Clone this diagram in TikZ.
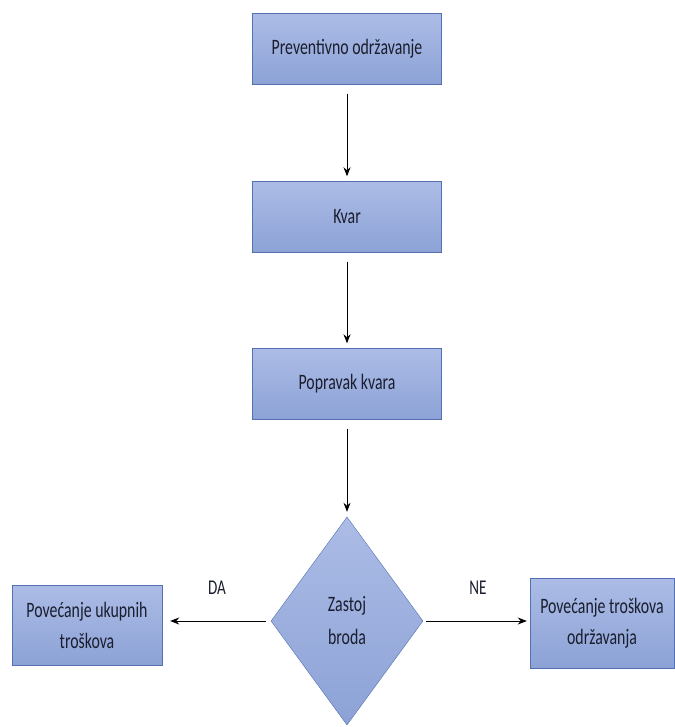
\documentclass[tikz,border=0pt]{standalone}
\usepackage{fontspec}
\setmainfont{Carlito}[FakeStretch=0.72]
\usetikzlibrary{shapes.geometric,arrows.meta}
\definecolor{boxtop}{RGB}{172,188,230}
\definecolor{boxbottom}{RGB}{140,162,214}
\definecolor{boxline}{RGB}{84,112,176}
\definecolor{textdark}{RGB}{26,30,46}

\begin{document}
\begin{tikzpicture}[x=1pt, y=-1pt,
    box/.style={draw=boxline, top color=boxtop, bottom color=boxbottom,
        minimum width=189pt, minimum height=71pt, inner sep=0pt,
        text=textdark, align=center, font=\fontsize{22}{31}\selectfont},
    odluka/.style={diamond, draw=boxline, top color=boxtop, bottom color=boxbottom,
        minimum width=152pt, minimum height=208pt, inner sep=0pt,
        text=textdark, align=center, font=\fontsize{22}{33}\selectfont},
    oznaka/.style={text=textdark, font=\fontsize{21}{24}\selectfont},
    arr/.style={-{Stealth[length=9pt,width=7pt]}, line width=1pt}]
    \useasboundingbox (0,0) rectangle (674,727);
    \node[box] (prev) at (347,49) {Preventivno održavanje};
    \node[box] (kvar) at (347,217) {Kvar};
    \node[box] (popravak) at (347,384) {Popravak kvara};
    \node[odluka] (zastoj) at (347,621) {Zastoj\\broda};
    \node[box, minimum width=150pt, minimum height=80pt] (ukupni) at (87,625) {Povećanje ukupnih\\troškova};
    \node[box, minimum width=144pt, minimum height=90pt] (odrzavanje) at (602,623) {Povećanje troškova\\održavanja};
    \node[oznaka] (da) at (217,588) {DA};
    \node[oznaka] (ne) at (478,588) {NE};
    \draw[arr, shorten <=9pt, shorten >=5pt] (prev) -- (kvar);
    \draw[arr, shorten <=9pt, shorten >=5pt] (kvar) -- (popravak);
    \draw[arr, shorten <=9pt, shorten >=5pt] (popravak) -- (zastoj);
    \draw[arr, shorten <=5pt, shorten >=8pt] (zastoj.west) -- (zastoj.west -| ukupni.east);
    \draw[arr, shorten <=3pt, shorten >=3pt] (zastoj.east) -- (zastoj.east -| odrzavanje.west);
\end{tikzpicture}
\end{document}
